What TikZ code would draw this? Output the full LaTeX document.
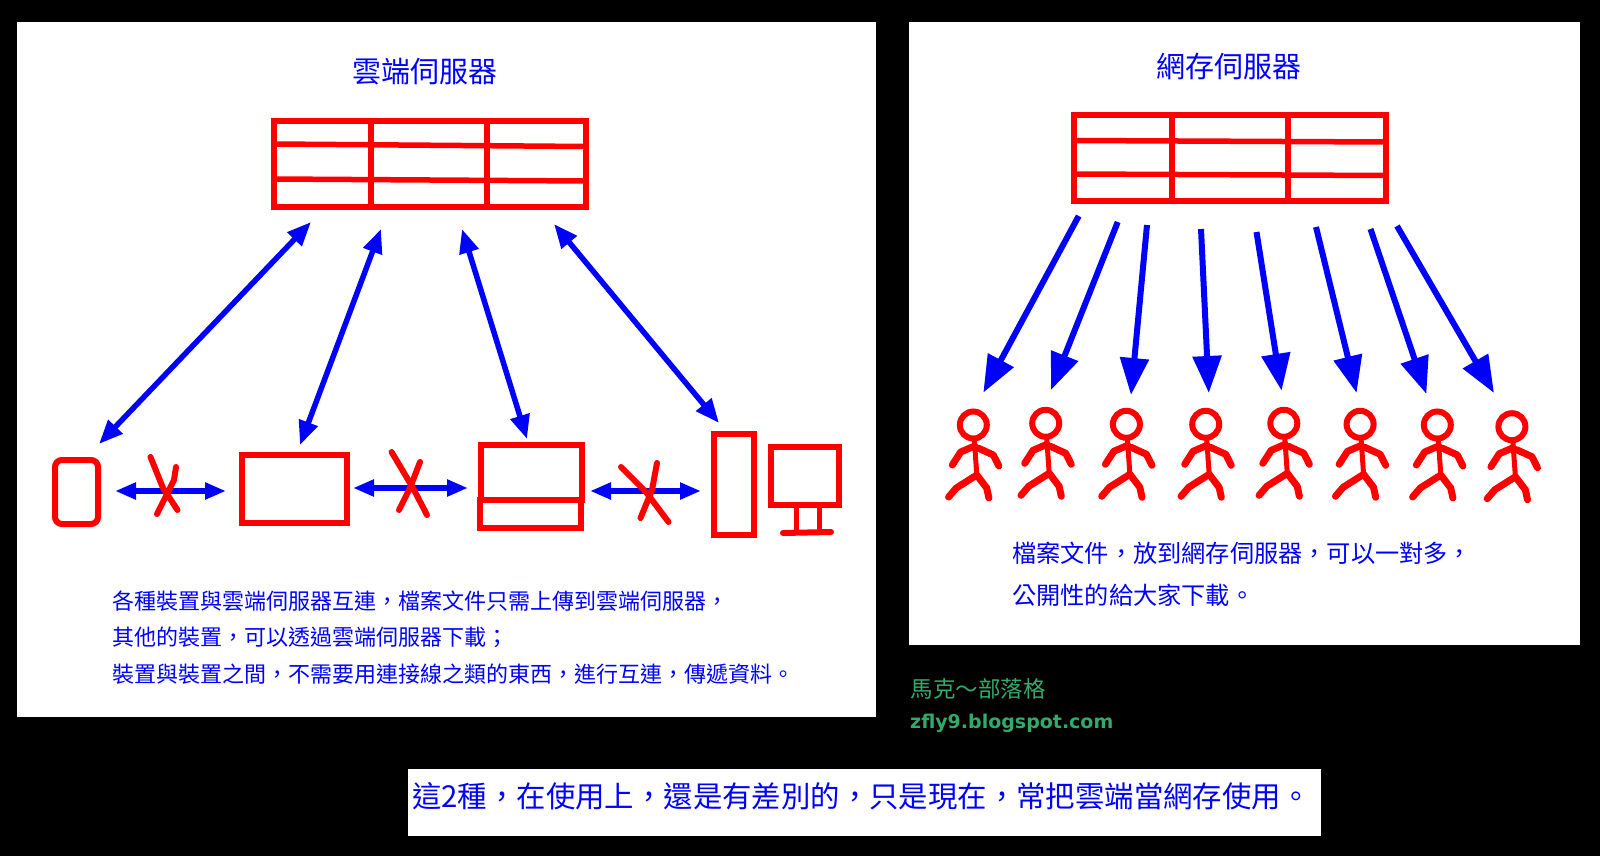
\documentclass[tikz,border=0pt]{standalone}
\usepackage{fontspec}
\setmainfont{Noto Sans CJK TC}[Script=CJK,Language=Chinese Traditional]
\newfontfamily\latinbold{DejaVu Sans}[BoldFont={DejaVu Sans Bold}]
\usetikzlibrary{arrows.meta}
\definecolor{pblue}{RGB}{0,0,255}
\definecolor{pred}{RGB}{255,0,0}
\definecolor{pgreen}{RGB}{50,170,105}
\newcommand{\fs}[1]{\fontsize{#1}{#1}\selectfont}
\tikzset{
  x=1pt,y=-1pt,
  panel/.style={fill=white,draw=none},
  redline/.style={draw=pred,line width=6pt},
  sketch/.style={draw=pred,line width=6pt,line cap=round,line join=round},
  bluearrow/.style={draw=pblue,line width=6pt,-{Triangle[length=37pt,width=28pt]}},
  twoway/.style={draw=pblue,line width=5.5pt,{Triangle[length=24pt,width=19pt]}-{Triangle[length=24pt,width=19pt]}},
  hway/.style={draw=pblue,line width=6.5pt,{Triangle[length=21pt,width=16pt]}-{Triangle[length=21pt,width=16pt]}},
  title/.style={text=pblue,font=\fs{29},inner sep=0pt},
  body/.style={text=pblue,font=\fs{22},inner sep=0pt,anchor=west},
  bodylarge/.style={text=pblue,font=\fs{24.2},inner sep=0pt,anchor=west},
  stickman/.pic={
    \draw[draw=pred,line width=6pt] (0,0) circle[radius=13.5pt];
    \draw[sketch,line width=5pt] (1,15) -- (3.5,50);
    \draw[sketch,line width=7pt] (1.3,21) -- (-12.6,27) -- (-21,40);
    \draw[sketch,line width=7pt] (4.7,23) -- (20,30) -- (25.6,41);
    \draw[sketch,line width=7pt] (-24.7,72) -- (-17,63) -- (3.5,50) -- (13.4,63) -- (15.6,73);
  }
}
\begin{document}
\begin{tikzpicture}
\useasboundingbox (0,0) rectangle (1600,856);
\fill[black] (0,0) rectangle (1600,856);
\fill[panel] (17,22) rectangle (876,717);
\fill[panel] (909,22) rectangle (1580,645);
\fill[panel] (408,769) rectangle (1321,836);

% left server
\node[title] (ltitle) at (424.5,72) {雲端伺服器};
\draw[redline] (273.7,121) rectangle (586,207);
\draw[redline] (370.7,121) -- (370.7,207);
\draw[redline] (486.7,121) -- (486.7,207);
\draw[redline,line width=5.5pt] (273.7,144) -- (586,146.5);
\draw[redline,line width=5.5pt] (273.7,179) -- (586,181);

\coordinate (ls1) at (311,222); \coordinate (ld1) at (99,444);
\coordinate (ls2) at (381,229); \coordinate (ld2) at (300,445);
\coordinate (ls3) at (462,229); \coordinate (ld3) at (527,439);
\coordinate (ls4) at (554,224); \coordinate (ld4) at (719,423);
\draw[twoway] (ls1) -- (ld1);
\draw[twoway] (ls2) -- (ld2);
\draw[twoway] (ls3) -- (ld3);
\draw[twoway] (ls4) -- (ld4);

% devices
\draw[redline,rounded corners=7pt] (55,460) rectangle (98,524);
\draw[redline] (242,455) rectangle (347,523);
\draw[redline] (480.5,444.7) rectangle (582,499.7);
\draw[redline] (479.5,499.7) rectangle (581,527.7);
\draw[redline] (714,433.7) rectangle (754,535);
\draw[redline] (771,447) rectangle (839,504.7);
\draw[redline,line width=5pt] (796,507) -- (796,532);
\draw[redline,line width=5pt] (819,507) -- (819,532);
\draw[sketch] (783,533) -- (831,532);

% links between devices
\coordinate (h1a) at (115,491); \coordinate (h1b) at (226,491);
\coordinate (h2a) at (353,488); \coordinate (h2b) at (468,488);
\coordinate (h3a) at (590,491); \coordinate (h3b) at (701,491);
\draw[hway] (h1a) -- (h1b);
\draw[hway] (h2a) -- (h2b);
\draw[hway] (h3a) -- (h3b);

% crosses
\draw[sketch] (150.5,457) -- (163,488) -- (177.5,510);
\draw[sketch] (176,467) -- (174,480) -- (157,514);
\draw[sketch] (391.6,452) -- (413,488) -- (427,515);
\draw[sketch] (420,462) -- (410,488) -- (399,510);
\draw[sketch] (621,467) -- (646,492) -- (668.5,522);
\draw[sketch] (657,463) -- (652,490) -- (640.5,518);

\node[body] (l1) at (112.4,601) {各種裝置與雲端伺服器互連，檔案文件只需上傳到雲端伺服器，};
\node[body] (l2) at (112.4,637.5) {其他的裝置，可以透過雲端伺服器下載；};
\node[body] (l3) at (112.4,674.5) {裝置與裝置之間，不需要用連接線之類的東西，進行互連，傳遞資料。};

% right server
\node[title] (rtitle) at (1228.5,66.5) {網存伺服器};
\draw[redline] (1074,115) rectangle (1386,201);
\draw[redline] (1171.5,115) -- (1171.5,201);
\draw[redline] (1288,115) -- (1288,201);
\draw[redline,line width=5.5pt] (1074,140.5) -- (1386,142);
\draw[redline,line width=5.5pt] (1074,174) -- (1386,175.5);

\foreach \i/\sx/\sy/\tx/\ty in {1/1078.7/216/983.3/392.7,2/1117.7/222/1051/390,3/1147/225/1131/395,4/1201/229/1208.8/393,5/1256.5/232/1281.6/390.7,6/1316/227/1356.6/393,7/1370.5/229/1426.4/394,8/1397/226/1494/393}{
  \coordinate (rs\i) at (\sx,\sy);
  \coordinate (rt\i) at (\tx,\ty);
  \draw[bluearrow] (rs\i) -- (rt\i);
}
\foreach \hx/\hy in {973.3/425,1045.7/423.3,1126.4/424.3,1205.7/424.3,1283.8/423.3,1360.1/424.3,1437.3/425,1511.9/426.7}{
  \pic at (\hx,\hy) {stickman};
}

\node[bodylarge] (r1) at (1012,553) {檔案文件，放到網存伺服器，可以一對多，};
\node[bodylarge] (r2) at (1012,595) {公開性的給大家下載。};

% blog
\node[anchor=west,inner sep=0pt,text=pgreen,font=\fs{22.5}] (blog) at (910.5,689) {馬克～部落格};
\node[anchor=west,inner sep=0pt,text=pgreen,font=\latinbold\bfseries\fs{19}] (url) at (910,723) {zfly9.blogspot.com};

% bottom note
\node[anchor=west,inner sep=0pt,text=pblue,font=\fs{29.4}] (note) at (412,796) {這2種，在使用上，還是有差別的，只是現在，常把雲端當網存使用。};
\end{tikzpicture}
\end{document}
